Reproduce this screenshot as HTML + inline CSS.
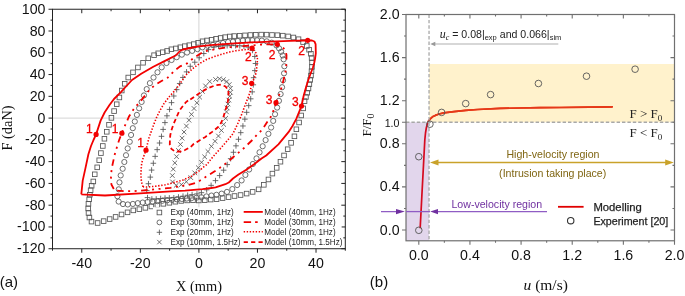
<!DOCTYPE html>
<html><head><meta charset="utf-8"><style>
html,body{margin:0;padding:0;background:#fff;}
svg{display:block;will-change:transform;}
text{font-family:"Liberation Sans",sans-serif;}
.sf{font-family:"Liberation Serif",serif;}
</style></head><body>
<svg width="685" height="296" viewBox="0 0 685 296">
<rect width="685" height="296" fill="#fff"/>
<line x1="52.5" y1="118.1" x2="345.3" y2="118.1" stroke="#d4d4d4" stroke-width="1"/>
<line x1="198.9" y1="9.24" x2="198.9" y2="248.73" stroke="#d4d4d4" stroke-width="1"/>
<g fill="none" stroke="#555" stroke-width="0.85"><rect x="89.2" y="219.3" width="4.6" height="4.6"/><rect x="87.1" y="215.21" width="4.6" height="4.6"/><rect x="86.2" y="210.7" width="4.6" height="4.6"/><rect x="85.9" y="206.13" width="4.6" height="4.6"/><rect x="86.15" y="201.55" width="4.6" height="4.6"/><rect x="86.9" y="197.01" width="4.6" height="4.6"/><rect x="87.54" y="192.45" width="4.6" height="4.6"/><rect x="88.32" y="187.92" width="4.6" height="4.6"/><rect x="89.34" y="183.44" width="4.6" height="4.6"/><rect x="91.02" y="179.16" width="4.6" height="4.6"/><rect x="92.45" y="172" width="4.6" height="4.6"/><rect x="94.91" y="165.04" width="4.6" height="4.6"/><rect x="96.93" y="157.96" width="4.6" height="4.6"/><rect x="98.62" y="150.78" width="4.6" height="4.6"/><rect x="100.52" y="143.67" width="4.6" height="4.6"/><rect x="102.12" y="136.46" width="4.6" height="4.6"/><rect x="104.46" y="129.5" width="4.6" height="4.6"/><rect x="106.7" y="122.51" width="4.6" height="4.6"/><rect x="109.11" y="115.57" width="4.6" height="4.6"/><rect x="111.79" y="108.78" width="4.6" height="4.6"/><rect x="114.42" y="101.94" width="4.6" height="4.6"/><rect x="117.08" y="95.16" width="4.6" height="4.6"/><rect x="119.46" y="88.22" width="4.6" height="4.6"/><rect x="122.4" y="81.5" width="4.6" height="4.6"/><rect x="125.95" y="75.22" width="4.6" height="4.6"/><rect x="130.7" y="70.05" width="4.6" height="4.6"/><rect x="135.63" y="65.14" width="4.6" height="4.6"/><rect x="140.74" y="60.45" width="4.6" height="4.6"/><rect x="145.97" y="55.99" width="4.6" height="4.6"/><rect x="151.77" y="52.9" width="4.6" height="4.6"/><rect x="155.94" y="51" width="4.6" height="4.6"/><rect x="160.41" y="49.92" width="4.6" height="4.6"/><rect x="164.81" y="48.66" width="4.6" height="4.6"/><rect x="169.07" y="46.97" width="4.6" height="4.6"/><rect x="173.59" y="46.14" width="4.6" height="4.6"/><rect x="178.03" y="44.95" width="4.6" height="4.6"/><rect x="182.51" y="43.88" width="4.6" height="4.6"/><rect x="187" y="42.9" width="4.6" height="4.6"/><rect x="191.48" y="41.83" width="4.6" height="4.6"/><rect x="195.88" y="40.5" width="4.6" height="4.6"/><rect x="200.22" y="38.98" width="4.6" height="4.6"/><rect x="204.73" y="38.17" width="4.6" height="4.6"/><rect x="209.27" y="37.46" width="4.6" height="4.6"/><rect x="213.78" y="36.56" width="4.6" height="4.6"/><rect x="218.3" y="35.68" width="4.6" height="4.6"/><rect x="222.83" y="34.87" width="4.6" height="4.6"/><rect x="227.38" y="34.2" width="4.6" height="4.6"/><rect x="231.95" y="33.76" width="4.6" height="4.6"/><rect x="237.34" y="33.42" width="4.6" height="4.6"/><rect x="242.73" y="33.07" width="4.6" height="4.6"/><rect x="248.12" y="32.71" width="4.6" height="4.6"/><rect x="253.51" y="32.43" width="4.6" height="4.6"/><rect x="258.91" y="32.3" width="4.6" height="4.6"/><rect x="264.31" y="32.34" width="4.6" height="4.6"/><rect x="269.7" y="32.69" width="4.6" height="4.6"/><rect x="275.09" y="32.88" width="4.6" height="4.6"/><rect x="280.47" y="33.36" width="4.6" height="4.6"/><rect x="285.81" y="34.11" width="4.6" height="4.6"/><rect x="291.11" y="35.19" width="4.6" height="4.6"/><rect x="296.22" y="36.9" width="4.6" height="4.6"/><rect x="300.77" y="39.77" width="4.6" height="4.6"/><rect x="304.49" y="43.67" width="4.6" height="4.6"/><rect x="306.8" y="47.41" width="4.6" height="4.6"/><rect x="308.58" y="51.43" width="4.6" height="4.6"/><rect x="309.32" y="55.76" width="4.6" height="4.6"/><rect x="309.73" y="60.14" width="4.6" height="4.6"/><rect x="309.64" y="64.54" width="4.6" height="4.6"/><rect x="309.22" y="68.91" width="4.6" height="4.6"/><rect x="308.67" y="73.28" width="4.6" height="4.6"/><rect x="307.91" y="77.61" width="4.6" height="4.6"/><rect x="307.06" y="81.93" width="4.6" height="4.6"/><rect x="306.17" y="86.24" width="4.6" height="4.6"/><rect x="304.92" y="90.46" width="4.6" height="4.6"/><rect x="303.62" y="94.66" width="4.6" height="4.6"/><rect x="302.25" y="98.84" width="4.6" height="4.6"/><rect x="300.96" y="106.07" width="4.6" height="4.6"/><rect x="298.94" y="113.17" width="4.6" height="4.6"/><rect x="296.77" y="120.18" width="4.6" height="4.6"/><rect x="294.07" y="126.98" width="4.6" height="4.6"/><rect x="292.13" y="134.02" width="4.6" height="4.6"/><rect x="288.8" y="140.57" width="4.6" height="4.6"/><rect x="285.37" y="146.93" width="4.6" height="4.6"/><rect x="281.73" y="153.17" width="4.6" height="4.6"/><rect x="278.16" y="159.41" width="4.6" height="4.6"/><rect x="274.39" y="165.56" width="4.6" height="4.6"/><rect x="270.09" y="171.29" width="4.6" height="4.6"/><rect x="266.16" y="177.17" width="4.6" height="4.6"/><rect x="261.54" y="182.53" width="4.6" height="4.6"/><rect x="256.32" y="187.05" width="4.6" height="4.6"/><rect x="250.33" y="189.6" width="4.6" height="4.6"/><rect x="244.33" y="191.29" width="4.6" height="4.6"/><rect x="238.26" y="192.74" width="4.6" height="4.6"/><rect x="232.21" y="193.72" width="4.6" height="4.6"/><rect x="226.27" y="194.81" width="4.6" height="4.6"/><rect x="220.3" y="195.78" width="4.6" height="4.6"/><rect x="214.29" y="196.86" width="4.6" height="4.6"/><rect x="208.39" y="197.28" width="4.6" height="4.6"/><rect x="202.5" y="197.86" width="4.6" height="4.6"/><rect x="196.55" y="198.16" width="4.6" height="4.6"/><rect x="190.7" y="197.99" width="4.6" height="4.6"/><rect x="184.83" y="198.13" width="4.6" height="4.6"/><rect x="178.96" y="198.63" width="4.6" height="4.6"/><rect x="173.05" y="199.43" width="4.6" height="4.6"/><rect x="167.05" y="200.49" width="4.6" height="4.6"/><rect x="161.07" y="201.52" width="4.6" height="4.6"/><rect x="155.07" y="202.79" width="4.6" height="4.6"/><rect x="149.07" y="204.17" width="4.6" height="4.6"/><rect x="143.06" y="205.53" width="4.6" height="4.6"/><rect x="137.05" y="206.88" width="4.6" height="4.6"/><rect x="131.02" y="208.08" width="4.6" height="4.6"/><rect x="125.24" y="210.04" width="4.6" height="4.6"/><rect x="119.24" y="212.17" width="4.6" height="4.6"/><rect x="113.31" y="214.63" width="4.6" height="4.6"/><rect x="107.33" y="216.76" width="4.6" height="4.6"/><rect x="101.36" y="218.82" width="4.6" height="4.6"/><rect x="95.32" y="220.7" width="4.6" height="4.6"/></g>
<g fill="none" stroke="#555" stroke-width="0.85"><circle cx="117.4" cy="196.2" r="2.6"/><circle cx="118.76" cy="189.33" r="2.6"/><circle cx="119.46" cy="182.36" r="2.6"/><circle cx="120.7" cy="175.43" r="2.6"/><circle cx="122.66" cy="168.76" r="2.6"/><circle cx="124.33" cy="161.99" r="2.6"/><circle cx="126" cy="155.21" r="2.6"/><circle cx="127.67" cy="148.43" r="2.6"/><circle cx="129.75" cy="141.77" r="2.6"/><circle cx="131.08" cy="134.97" r="2.6"/><circle cx="132.81" cy="128.18" r="2.6"/><circle cx="134.79" cy="121.51" r="2.6"/><circle cx="136.88" cy="114.9" r="2.6"/><circle cx="139.14" cy="108.33" r="2.6"/><circle cx="141.62" cy="101.94" r="2.6"/><circle cx="143.95" cy="95.42" r="2.6"/><circle cx="146.7" cy="89.13" r="2.6"/><circle cx="149.9" cy="83.15" r="2.6"/><circle cx="153.51" cy="77.52" r="2.6"/><circle cx="157.49" cy="72.29" r="2.6"/><circle cx="161.69" cy="67.34" r="2.6"/><circle cx="166.51" cy="63" r="2.6"/><circle cx="171.59" cy="59.99" r="2.6"/><circle cx="176.71" cy="57.2" r="2.6"/><circle cx="181.86" cy="54.67" r="2.6"/><circle cx="187.05" cy="52.54" r="2.6"/><circle cx="192.14" cy="50.87" r="2.6"/><circle cx="197.43" cy="49.13" r="2.6"/><circle cx="202.38" cy="47.33" r="2.6"/><circle cx="207.79" cy="45.79" r="2.6"/><circle cx="212.96" cy="44.89" r="2.6"/><circle cx="217.94" cy="44" r="2.6"/><circle cx="223.01" cy="42.97" r="2.6"/><circle cx="228.08" cy="42.03" r="2.6"/><circle cx="232.96" cy="41.62" r="2.6"/><circle cx="237.81" cy="40.92" r="2.6"/><circle cx="242.88" cy="40.49" r="2.6"/><circle cx="247.7" cy="40.3" r="2.6"/><circle cx="252.4" cy="40.3" r="2.6"/><circle cx="257.1" cy="40.3" r="2.6"/><circle cx="261.79" cy="40.61" r="2.6"/><circle cx="266.71" cy="41.34" r="2.6"/><circle cx="271.68" cy="42.67" r="2.6"/><circle cx="276.46" cy="45.4" r="2.6"/><circle cx="279.09" cy="48.36" r="2.6"/><circle cx="281.16" cy="51.78" r="2.6"/><circle cx="282.7" cy="55.45" r="2.6"/><circle cx="283.64" cy="59.34" r="2.6"/><circle cx="284.34" cy="66.28" r="2.6"/><circle cx="284.05" cy="73.31" r="2.6"/><circle cx="283.05" cy="80.26" r="2.6"/><circle cx="282.08" cy="87.22" r="2.6"/><circle cx="280.62" cy="94.08" r="2.6"/><circle cx="278.94" cy="100.84" r="2.6"/><circle cx="277.14" cy="107.59" r="2.6"/><circle cx="275.05" cy="114.2" r="2.6"/><circle cx="273.21" cy="120.92" r="2.6"/><circle cx="271.11" cy="127.54" r="2.6"/><circle cx="268.41" cy="133.84" r="2.6"/><circle cx="265.61" cy="140.09" r="2.6"/><circle cx="262.67" cy="146.25" r="2.6"/><circle cx="259.55" cy="152.31" r="2.6"/><circle cx="256.51" cy="158.4" r="2.6"/><circle cx="252.86" cy="163.98" r="2.6"/><circle cx="249.13" cy="169.51" r="2.6"/><circle cx="245.38" cy="174.94" r="2.6"/><circle cx="241.61" cy="180.42" r="2.6"/><circle cx="237.16" cy="185.04" r="2.6"/><circle cx="232.33" cy="189.07" r="2.6"/><circle cx="226.98" cy="191.89" r="2.6"/><circle cx="221.66" cy="193.66" r="2.6"/><circle cx="216.45" cy="194.81" r="2.6"/><circle cx="211.45" cy="195.56" r="2.6"/><circle cx="206.47" cy="196.41" r="2.6"/><circle cx="201.39" cy="197.29" r="2.6"/><circle cx="196.52" cy="197.69" r="2.6"/><circle cx="191.64" cy="198.09" r="2.6"/><circle cx="186.77" cy="198.53" r="2.6"/><circle cx="181.87" cy="198.96" r="2.6"/><circle cx="177" cy="199.37" r="2.6"/><circle cx="172.09" cy="199.85" r="2.6"/><circle cx="167.19" cy="200.33" r="2.6"/><circle cx="162.28" cy="200.76" r="2.6"/><circle cx="157.4" cy="201.16" r="2.6"/><circle cx="152.52" cy="201.57" r="2.6"/><circle cx="147.64" cy="202.01" r="2.6"/><circle cx="142.71" cy="202.54" r="2.6"/><circle cx="137.79" cy="203.16" r="2.6"/><circle cx="132.86" cy="203.95" r="2.6"/><circle cx="127.8" cy="204.47" r="2.6"/><circle cx="122.98" cy="204.06" r="2.6"/><circle cx="118.65" cy="201.58" r="2.6"/></g>
<path fill="none" stroke="#555" stroke-width="0.85" d="M144.7 197.6h5.6M147.5 194.8v5.6M143.96 190.58h5.6M146.76 187.78v5.6M145.68 183.72h5.6M148.48 180.92v5.6M147.52 177.12h5.6M150.32 174.32v5.6M148.8 170.1h5.6M151.6 167.3v5.6M150.54 163.25h5.6M153.34 160.45v5.6M152.34 156.39h5.6M155.14 153.59v5.6M154.37 149.64h5.6M157.17 146.84v5.6M156.75 143.01h5.6M159.55 140.21v5.6M158.69 136.34h5.6M161.49 133.54v5.6M160.33 129.41h5.6M163.13 126.61v5.6M162.14 122.59h5.6M164.94 119.79v5.6M164.14 115.81h5.6M166.94 113.01v5.6M166.77 109.43h5.6M169.57 106.63v5.6M168.72 102.64h5.6M171.52 99.84v5.6M170.99 96.01h5.6M173.79 93.21v5.6M173.87 89.63h5.6M176.67 86.83v5.6M176.91 83.47h5.6M179.71 80.67v5.6M180.11 77.43h5.6M182.91 74.63v5.6M183.77 71.87h5.6M186.57 69.07v5.6M187.46 66.27h5.6M190.26 63.47v5.6M191.95 62.21h5.6M194.75 59.41v5.6M196.4 57.76h5.6M199.2 54.96v5.6M201 53.53h5.6M203.8 50.73v5.6M205.72 49.59h5.6M208.52 46.79v5.6M211.13 47.05h5.6M213.93 44.25v5.6M215.72 46.26h5.6M218.52 43.46v5.6M220.03 45.94h5.6M222.83 43.14v5.6M224.35 45.71h5.6M227.15 42.91v5.6M228.56 45.56h5.6M231.36 42.76v5.6M232.77 45.6h5.6M235.57 42.8v5.6M236.98 45.75h5.6M239.78 42.95v5.6M241.18 46.15h5.6M243.98 43.35v5.6M245.46 47.13h5.6M248.26 44.33v5.6M249.64 50.44h5.6M252.44 47.64v5.6M251.99 56.47h5.6M254.79 53.67v5.6M252.69 63.5h5.6M255.49 60.7v5.6M252.01 70.63h5.6M254.81 67.83v5.6M250.82 77.69h5.6M253.62 74.89v5.6M250.5 84.81h5.6M253.3 82.01v5.6M249.43 91.88h5.6M252.23 89.08v5.6M247.9 98.82h5.6M250.7 96.02v5.6M245.9 105.63h5.6M248.7 102.83v5.6M243.87 112.34h5.6M246.67 109.54v5.6M242.05 119.16h5.6M244.85 116.36v5.6M240.13 125.97h5.6M242.93 123.17v5.6M237.94 132.65h5.6M240.74 129.85v5.6M235.69 139.29h5.6M238.49 136.49v5.6M233.18 145.83h5.6M235.98 143.03v5.6M230.64 152.27h5.6M233.44 149.47v5.6M227.86 158.66h5.6M230.66 155.86v5.6M224.4 164.58h5.6M227.2 161.78v5.6M220.84 170.19h5.6M223.64 167.39v5.6M216.83 175.57h5.6M219.63 172.77v5.6M212.68 180.62h5.6M215.48 177.82v5.6M208.32 185.35h5.6M211.12 182.55v5.6M203.87 189.83h5.6M206.67 187.03v5.6M198.62 192.68h5.6M201.42 189.88v5.6M194.18 193.89h5.6M196.98 191.09v5.6M189.28 194.65h5.6M192.08 191.85v5.6M184.86 195.24h5.6M187.66 192.44v5.6M180.2 196.2h5.6M183 193.4v5.6M175.67 197h5.6M178.47 194.2v5.6M171.05 197.8h5.6M173.85 195v5.6M166.53 197.93h5.6M169.33 195.13v5.6M162.23 198.04h5.6M165.03 195.24v5.6M157.86 198.53h5.6M160.66 195.73v5.6M153.41 198.96h5.6M156.21 196.16v5.6M149.06 199h5.6M151.86 196.2v5.6"/>
<path fill="none" stroke="#555" stroke-width="0.85" d="M213.3 77.2l4.6 4.6M213.3 81.8l4.6 -4.6M217.23 76.45l4.6 4.6M217.23 81.05l4.6 -4.6M221.05 77.32l4.6 4.6M221.05 81.92l4.6 -4.6M224.5 79.27l4.6 4.6M224.5 83.87l4.6 -4.6M226.94 82.27l4.6 4.6M226.94 86.87l4.6 -4.6M228.17 86.01l4.6 4.6M228.17 90.61l4.6 -4.6M228.09 89.98l4.6 4.6M228.09 94.58l4.6 -4.6M227.4 93.93l4.6 4.6M227.4 98.53l4.6 -4.6M226.52 97.83l4.6 4.6M226.52 102.43l4.6 -4.6M225.65 101.73l4.6 4.6M225.65 106.33l4.6 -4.6M224.83 105.65l4.6 4.6M224.83 110.25l4.6 -4.6M224.23 109.59l4.6 4.6M224.23 114.19l4.6 -4.6M223.34 116l4.6 4.6M223.34 120.6l4.6 -4.6M221.39 122.13l4.6 4.6M221.39 126.73l4.6 -4.6M219.09 128.11l4.6 4.6M219.09 132.71l4.6 -4.6M216.13 133.71l4.6 4.6M216.13 138.31l4.6 -4.6M212.73 138.98l4.6 4.6M212.73 143.58l4.6 -4.6M209.1 144.03l4.6 4.6M209.1 148.63l4.6 -4.6M205.65 149.19l4.6 4.6M205.65 153.79l4.6 -4.6M202.39 154.55l4.6 4.6M202.39 159.15l4.6 -4.6M199.27 160l4.6 4.6M199.27 164.6l4.6 -4.6M196.06 165.43l4.6 4.6M196.06 170.03l4.6 -4.6M192.43 170.56l4.6 4.6M192.43 175.16l4.6 -4.6M188.49 175.35l4.6 4.6M188.49 179.95l4.6 -4.6M184.06 179.46l4.6 4.6M184.06 184.06l4.6 -4.6M179.05 182.28l4.6 4.6M179.05 186.88l4.6 -4.6M173.89 183.07l4.6 4.6M173.89 187.67l4.6 -4.6M170.24 179.63l4.6 4.6M170.24 184.23l4.6 -4.6M170.03 173.26l4.6 4.6M170.03 177.86l4.6 -4.6M170.96 166.85l4.6 4.6M170.96 171.45l4.6 -4.6M172.53 160.58l4.6 4.6M172.53 165.18l4.6 -4.6M174.25 154.36l4.6 4.6M174.25 158.96l4.6 -4.6M176.14 148.21l4.6 4.6M176.14 152.81l4.6 -4.6M178.13 142.09l4.6 4.6M178.13 146.69l4.6 -4.6M179.77 135.85l4.6 4.6M179.77 140.45l4.6 -4.6M181.76 129.72l4.6 4.6M181.76 134.32l4.6 -4.6M184.11 123.76l4.6 4.6M184.11 128.36l4.6 -4.6M186.68 117.92l4.6 4.6M186.68 122.52l4.6 -4.6M189.14 112.05l4.6 4.6M189.14 116.65l4.6 -4.6M191.73 106.2l4.6 4.6M191.73 110.8l4.6 -4.6M194.56 100.52l4.6 4.6M194.56 105.12l4.6 -4.6M197.34 94.83l4.6 4.6M197.34 99.43l4.6 -4.6M200.11 89.11l4.6 4.6M200.11 93.71l4.6 -4.6M203.25 83.64l4.6 4.6M203.25 88.24l4.6 -4.6M207.43 79.22l4.6 4.6M207.43 83.82l4.6 -4.6"/>
<polyline fill="none" stroke="#f20000" stroke-width="1.8" stroke-linejoin="round" points="81.3,194.4 82.7,180.6 85.4,168.4 88.4,154.2 91,146 93.5,140 96.1,134.4 100.6,120.6 104.6,112.5 109.5,105 114,99 120.9,92.2 126,86.5 132,80 141.2,73.8 153.3,66.7 165.5,60.6 175.7,55.5 180,51 183,49.5 189.9,48 199,46.3 210.6,45.1 230.9,43.7 251.1,42.4 270,41.6 290,40.9 307.7,40.3 312,40.5 314.4,41.5 315.6,44.1 315.8,53.3 315.2,58 314.2,63 312.8,68 310.6,73.5 308.3,80 305.8,88 303.6,96 301.5,106 296.4,118.6 292.5,126 288.5,132.2 278.4,144.3 266.2,155.5 261.5,158.5 254.1,164.2 246.7,169.5 238.5,174.6 233,178.5 228.8,182.5 225.4,184.2 215.6,187.3 211.2,188 202.5,189.1 185,190.7 170.4,191.4 140,193.3 105,195.5 81.3,194.4"/>
<polyline fill="none" stroke="#f20000" stroke-width="1.8" stroke-dasharray="6.5 4.5 2 4.5 2 4.5" points="113.8,189 111.5,184.6 110.8,180.6 111.2,174 111.7,168.4 114.8,154.2 118.8,141 119.9,138 121.9,133.2 124.5,126.7 129,116.5 134.1,108.4 141.2,100.3 149.3,90.1 155,85 161.5,81 167.5,77.8 175,70.2 180.1,66.4 187.1,63.4 194.2,57.5 203.6,51.5 215.5,49.2 227.3,47.4 241.5,46.2 250.9,45.6 260,44.6 270,44.4 277.3,44.3 282,46.5 285.5,50.5 286.5,55 286.4,63.6 285.5,72 283.9,78.5 282,86 279.5,94 276.1,102.6 273.7,110 271,116.5 267.2,122 262,130 258.1,133.5 251.8,140.5 244,148 235.5,155.2 223.4,165.4 214.7,171.3 211.2,173.5 205.9,176.8 199,181.2 195.2,183 188.6,184.8 179.5,186.3 170.4,187.8 163.3,188.5 155.2,189.3 144,190.3 133,191.2 126,191.2 118,190.6 113.8,189"/>
<polyline fill="none" stroke="#f20000" stroke-width="1.6" stroke-dasharray="1.4 1.7" points="143,186.8 141.5,182 140.8,175 141.5,165 142.5,160 144.2,155 146,150.2 147.2,145 148.9,138.1 150.8,132.8 152.5,128 154.2,123.4 156.9,116.6 160.3,109.9 164.3,103.1 169.6,96.3 174.1,91.4 178.1,86.4 182,80.7 186,75 189,72.2 192,69.2 195.1,66.8 200.5,63 206.6,59.5 215.3,56.2 222,54.2 228.8,52.2 235.5,50.8 242.3,49.9 249,49.2 252.4,48.8 256,53 257.4,58.6 257.2,63.6 256,73.1 254,79 251.7,83.3 250.1,92 248.6,96.4 245.3,104.5 241.9,113.9 238.5,122 233.1,133.5 227.9,139.9 220.8,148.1 215.2,154.2 210.3,160 207.1,164.4 203.8,166.8 198.3,171.6 190.7,176.7 182.6,180.2 173.4,182.7 165.3,184.8 155.2,186.3 147,187 143,186.8"/>
<polyline fill="none" stroke="#f20000" stroke-width="1.8" stroke-dasharray="4.5 3" points="190.3,99.5 195,96.3 200.4,92.5 207.1,88.6 215.2,85.3 221,84.6 225.5,86.5 228.3,90 228.6,96.2 227.5,104 225.4,110 223,118.6 221,123 218.4,126.8 212.5,131.6 205.4,136.9 199.5,140.4 193.6,144 190.5,147.1 185,150 180.7,151.5 175,151.5 171.5,149 169.8,145 169.9,140 170.3,135 171.3,130.7 173.3,124.6 176.4,117.5 179.5,110.5 182.5,106.5 185.8,102.3 190.3,98.8"/>
<g fill="#f20000"><circle cx="96.1" cy="134.4" r="2.6"/><circle cx="307.7" cy="40.3" r="2.6"/><circle cx="301.5" cy="106" r="2.6"/><circle cx="121.9" cy="133.2" r="2.6"/><circle cx="277.3" cy="44.3" r="2.6"/><circle cx="276" cy="102.7" r="2.6"/><circle cx="146" cy="150.2" r="2.6"/><circle cx="252.1" cy="48.2" r="2.6"/><circle cx="251.7" cy="83.3" r="2.6"/></g>
<g fill="#f20000" stroke="#f20000" stroke-width="0.3" font-size="12" text-anchor="middle"><text x="89.4" y="133">1</text><text x="301.5" y="55">2</text><text x="295.4" y="106.2">3</text><text x="115.2" y="132.6">1</text><text x="272.1" y="59">2</text><text x="269.2" y="103.6">3</text><text x="140.5" y="147.3">1</text><text x="248.4" y="61.3">2</text><text x="245" y="85.3">3</text></g>
<rect x="52.5" y="9.24" width="292.8" height="239.49" fill="none" stroke="#222" stroke-width="1"/>
<path stroke="#222" stroke-width="1" fill="none" d="M52.5 248.73h-4M345.3 248.73h-4M52.5 237.85h-2M345.3 237.85h-2M52.5 226.96h-4M345.3 226.96h-4M52.5 216.07h-2M345.3 216.07h-2M52.5 205.19h-4M345.3 205.19h-4M52.5 194.3h-2M345.3 194.3h-2M52.5 183.42h-4M345.3 183.42h-4M52.5 172.53h-2M345.3 172.53h-2M52.5 161.64h-4M345.3 161.64h-4M52.5 150.76h-2M345.3 150.76h-2M52.5 139.87h-4M345.3 139.87h-4M52.5 128.99h-2M345.3 128.99h-2M52.5 118.1h-4M345.3 118.1h-4M52.5 107.21h-2M345.3 107.21h-2M52.5 96.33h-4M345.3 96.33h-4M52.5 85.44h-2M345.3 85.44h-2M52.5 74.56h-4M345.3 74.56h-4M52.5 63.67h-2M345.3 63.67h-2M52.5 52.78h-4M345.3 52.78h-4M52.5 41.9h-2M345.3 41.9h-2M52.5 31.01h-4M345.3 31.01h-4M52.5 20.13h-2M345.3 20.13h-2M52.5 9.24h-4M345.3 9.24h-4M52.5 248.73v2M52.5 9.24v2M81.78 248.73v4M81.78 9.24v4M111.06 248.73v2M111.06 9.24v2M140.34 248.73v4M140.34 9.24v4M169.62 248.73v2M169.62 9.24v2M198.9 248.73v4M198.9 9.24v4M228.18 248.73v2M228.18 9.24v2M257.46 248.73v4M257.46 9.24v4M286.74 248.73v2M286.74 9.24v2M316.02 248.73v4M316.02 9.24v4M345.3 248.73v2M345.3 9.24v2"/>
<g font-size="14.2" fill="#111"><text transform="translate(45.5 253.23) scale(1 1.08)" text-anchor="end">-120</text><text transform="translate(45.5 231.46) scale(1 1.08)" text-anchor="end">-100</text><text transform="translate(45.5 209.69) scale(1 1.08)" text-anchor="end">-80</text><text transform="translate(45.5 187.92) scale(1 1.08)" text-anchor="end">-60</text><text transform="translate(45.5 166.14) scale(1 1.08)" text-anchor="end">-40</text><text transform="translate(45.5 144.37) scale(1 1.08)" text-anchor="end">-20</text><text transform="translate(45.5 122.6) scale(1 1.08)" text-anchor="end">0</text><text transform="translate(45.5 100.83) scale(1 1.08)" text-anchor="end">20</text><text transform="translate(45.5 79.06) scale(1 1.08)" text-anchor="end">40</text><text transform="translate(45.5 57.28) scale(1 1.08)" text-anchor="end">60</text><text transform="translate(45.5 35.51) scale(1 1.08)" text-anchor="end">80</text><text transform="translate(45.5 13.74) scale(1 1.08)" text-anchor="end">100</text><text transform="translate(81.78 267.8) scale(1 1.08)" text-anchor="middle">-40</text><text transform="translate(140.34 267.8) scale(1 1.08)" text-anchor="middle">-20</text><text transform="translate(198.9 267.8) scale(1 1.08)" text-anchor="middle">0</text><text transform="translate(257.46 267.8) scale(1 1.08)" text-anchor="middle">20</text><text transform="translate(316.02 267.8) scale(1 1.08)" text-anchor="middle">40</text></g>
<rect x="153" y="207.2" width="188.5" height="40.8" fill="#fff"/>
<g font-size="8.15" fill="#222"><text x="170.6" y="215.4">Exp (40mm, 1Hz)</text><text x="264.3" y="215.4">Model (40mm, 1Hz)</text><text x="170.6" y="225.3">Exp (30mm, 1Hz)</text><text x="264.3" y="225.3">Model (30mm, 1Hz)</text><text x="170.6" y="235.2">Exp (20mm, 1Hz)</text><text x="264.3" y="235.2">Model (20mm, 1Hz)</text><text x="170.6" y="245">Exp (10mm, 1.5Hz)</text><text x="264.3" y="245">Model (10mm, 1.5Hz)</text></g>
<rect x="157.1" y="210.2" width="4.6" height="4.6" fill="none" stroke="#555" stroke-width="0.85"/>
<circle cx="159.4" cy="222.4" r="2.4" fill="none" stroke="#555" stroke-width="0.85"/>
<path fill="none" stroke="#555" stroke-width="0.85" d="M156.7 232.3h5.4M159.4 229.6v5.4M157.2 239.9l4.4 4.4M157.2 244.3l4.4 -4.4"/>
<path stroke="#f20000" stroke-width="1.8" fill="none" d="M243.7 211.9H262.8"/>
<path stroke="#f20000" stroke-width="1.8" fill="none" stroke-dasharray="7.4 4 2.6 10" d="M243.7 222.2H262.8"/>
<path stroke="#f20000" stroke-width="1.6" fill="none" stroke-dasharray="1.4 1.6" d="M243.7 231.7H262.8"/>
<path stroke="#f20000" stroke-width="1.8" fill="none" stroke-dasharray="4.2 3.2" d="M243.7 242.2H262.8"/>
<text x="199" y="290.8" class="sf" font-size="14.4" text-anchor="middle" fill="#111">X (mm)</text>
<text transform="translate(11.8 128) rotate(-90)" class="sf" font-size="14.4" text-anchor="middle" fill="#111">F (daN)</text>
<text x="-0.3" y="287.2" font-size="15" fill="#111">(a)</text>
<polyline fill="none" stroke="#f00000" stroke-width="1.7" stroke-linecap="round" stroke-linejoin="round" points="420.2,227.6 421.9,195 423.5,165 424.8,140 425.5,133 426.3,128 427.2,124.5 428.4,121.2 430.3,118.8 432.5,116.8 435.3,115.4 439,114 443.8,112.9 453.9,111.7 465.7,110.3 477.6,109.5 500,108.4 520,108 540,107.6 560,107.5 590,107.1 612.2,106.8"/>
<rect x="406.01" y="122.25" width="23.01" height="118.53" fill="#7030a0" fill-opacity="0.2"/>
<rect x="429.03" y="64" width="245.47" height="58.25" fill="#ffc000" fill-opacity="0.2"/>
<polyline fill="none" stroke="#e43a1a" stroke-width="1.7" stroke-linecap="round" stroke-linejoin="round" points="428.4,121.2 430.3,118.8 432.5,116.8 435.3,115.4 439,114 443.8,112.9 453.9,111.7 465.7,110.3 477.6,109.5 500,108.4 520,108 540,107.6 560,107.5 590,107.1 612.2,106.8"/>
<path stroke="#a8a8a8" stroke-width="1.3" stroke-dasharray="3.4 2" fill="none" d="M429.03 14.5V240.78 M406.01 122.25H674.5"/>
<g fill="none" stroke="#555" stroke-width="0.9"><circle cx="418.8" cy="230.3" r="3.3"/><circle cx="418.8" cy="156.7" r="3.3"/><circle cx="429.9" cy="124.2" r="3.3"/><circle cx="441.6" cy="112.4" r="3.3"/><circle cx="465.7" cy="103.6" r="3.3"/><circle cx="490.6" cy="94.6" r="3.3"/><circle cx="538.4" cy="83.5" r="3.3"/><circle cx="586.5" cy="76.2" r="3.3"/><circle cx="635.1" cy="69.2" r="3.3"/></g>
<rect x="406.01" y="14.5" width="268.49" height="226.28" fill="none" stroke="#707070" stroke-width="1.2"/>
<path stroke="#707070" stroke-width="1.1" fill="none" d="M406.01 230h-4M674.5 230h-4M406.01 208.45h-2M674.5 208.45h-2M406.01 186.9h-4M674.5 186.9h-4M406.01 165.35h-2M674.5 165.35h-2M406.01 143.8h-4M674.5 143.8h-4M406.01 122.25h-2M674.5 122.25h-2M406.01 100.7h-4M674.5 100.7h-4M406.01 79.15h-2M674.5 79.15h-2M406.01 57.6h-4M674.5 57.6h-4M406.01 36.05h-2M674.5 36.05h-2M406.01 14.5h-4M674.5 14.5h-4M418.8 240.78v4M418.8 14.5v4M444.37 240.78v2M444.37 14.5v2M469.94 240.78v4M469.94 14.5v4M495.51 240.78v2M495.51 14.5v2M521.08 240.78v4M521.08 14.5v4M546.65 240.78v2M546.65 14.5v2M572.22 240.78v4M572.22 14.5v4M597.79 240.78v2M597.79 14.5v2M623.36 240.78v4M623.36 14.5v4M648.93 240.78v2M648.93 14.5v2M674.5 240.78v4M674.5 14.5v4M406.01 122.25h-4"/>
<g font-size="14.2" fill="#111"><text transform="translate(399.6 234.5) scale(1 1.08)" text-anchor="end">0.0</text><text transform="translate(399.6 191.4) scale(1 1.08)" text-anchor="end">0.4</text><text transform="translate(399.6 148.3) scale(1 1.08)" text-anchor="end">0.8</text><text transform="translate(399.6 105.2) scale(1 1.08)" text-anchor="end">1.2</text><text transform="translate(399.6 62.1) scale(1 1.08)" text-anchor="end">1.6</text><text transform="translate(399.6 19) scale(1 1.08)" text-anchor="end">2.0</text><text transform="translate(418.8 260.3) scale(1 1.08)" text-anchor="middle">0.0</text><text transform="translate(469.94 260.3) scale(1 1.08)" text-anchor="middle">0.4</text><text transform="translate(521.08 260.3) scale(1 1.08)" text-anchor="middle">0.8</text><text transform="translate(572.22 260.3) scale(1 1.08)" text-anchor="middle">1.2</text><text transform="translate(623.36 260.3) scale(1 1.08)" text-anchor="middle">1.6</text><text transform="translate(674.5 260.3) scale(1 1.08)" text-anchor="middle">2.0</text></g>
<text x="399.4" y="126.85" text-anchor="end" font-size="10.6" fill="#111">1.0</text>
<text x="439.7" y="37.7" font-size="10.6" fill="#222"><tspan font-style="italic" class="sf" font-size="12">u</tspan><tspan font-style="italic" class="sf" font-size="8" dy="2.5">c</tspan><tspan dy="-2.5"> = 0.08|</tspan><tspan font-size="7.5" dy="2.5">exp</tspan><tspan dy="-2.5"> and 0.066|</tspan><tspan font-size="7.5" dy="2.5">sim</tspan></text>
<path stroke="#b0b0b0" stroke-width="1.2" fill="none" d="M433 44H558.3"/><path fill="#999" d="M430.3 44L435.3 41.8V46.2Z"/>
<text x="553" y="157.8" font-size="10.6" fill="#7f6512" text-anchor="middle">High-velocity region</text>
<text x="552.7" y="177" font-size="10.6" fill="#7f6512" text-anchor="middle">(Intrusion taking place)</text>
<path stroke="#c9a22a" stroke-width="1.3" fill="none" d="M436 162.5H667"/>
<path fill="#c9a22a" d="M430 162.5L438.5 159.6V165.4Z M673.8 162.5L665.2 159.6V165.4Z"/>
<text x="496.8" y="207.5" font-size="10.6" fill="#7030a0" text-anchor="middle">Low-velocity region</text>
<path stroke="#8f5cc4" stroke-width="1.3" fill="none" d="M381 211.6H398M436 211.6H547"/>
<path fill="#7030a0" d="M404.8 211.6L396 208.9V214.3Z M430.2 211.6L438 208.9V214.3Z"/>
<path stroke="#8f5cc4" stroke-width="1.3" fill="none" d="M406 211.6H430"/>
<text x="629.5" y="118" class="sf" font-size="13" fill="#222">F &gt; F<tspan font-size="9" dy="3">0</tspan></text>
<text x="629.5" y="136.5" class="sf" font-size="13" fill="#222">F &lt; F<tspan font-size="9" dy="3">0</tspan></text>
<path stroke="#e00000" stroke-width="1.8" d="M558 206.8H583.6"/>
<circle cx="570.7" cy="220.7" r="3.2" fill="none" stroke="#333" stroke-width="1.1"/>
<text x="593.4" y="210.6" font-size="11.3" fill="#222" stroke="#222" stroke-width="0.25">Modelling</text>
<text x="593.4" y="224.8" font-size="10.7" fill="#222" stroke="#222" stroke-width="0.25">Experiment [20]</text>
<text x="545.7" y="290" class="sf" font-size="15.5" text-anchor="middle" fill="#111"><tspan font-style="italic">u</tspan> (m/s)</text>
<text transform="translate(371 125) rotate(-90)" class="sf" font-size="13" text-anchor="middle" fill="#111">F/F<tspan font-size="10" dy="3.3">0</tspan></text>
<text x="369.8" y="286.5" font-size="15" fill="#111">(b)</text>
</svg></body></html>
